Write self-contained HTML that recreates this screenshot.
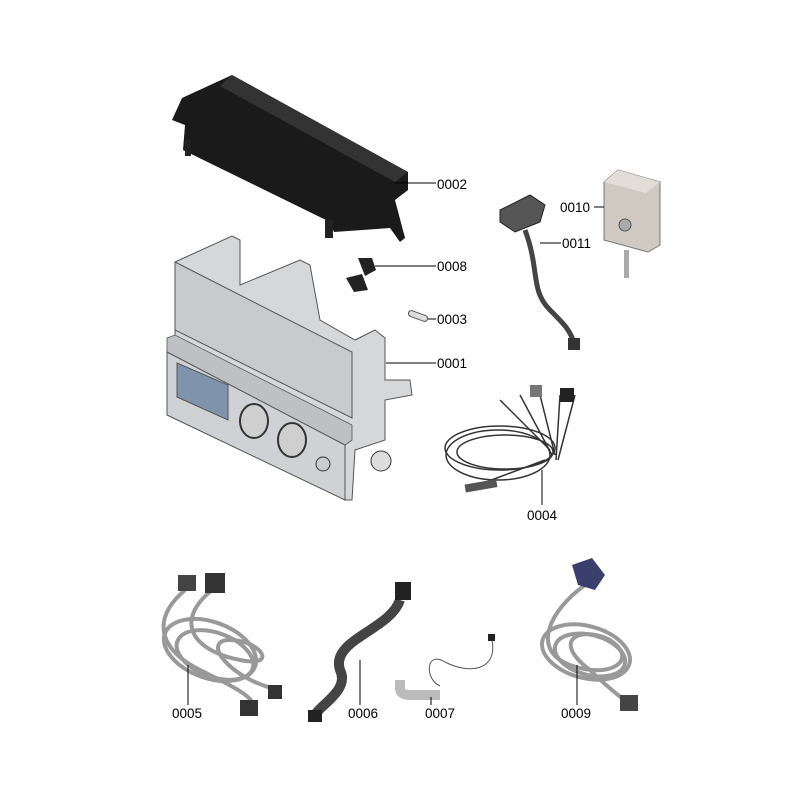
<!DOCTYPE html>
<html><head><meta charset="utf-8"><style>
html,body{margin:0;padding:0;background:#fff;width:800px;height:800px;overflow:hidden}
svg{display:block}
text{font-family:"Liberation Sans",Arial,sans-serif;font-size:13.5px;fill:#000}
</style></head><body>
<svg width="800" height="800" viewBox="0 0 800 800">
<!-- 0002 black cover -->
<polygon points="182,98 232,75 408,172 408,190 395,200 405,238 400,242 390,228 334,232 330,222 183,150 185,125 172,120" fill="#1a1a1a"/>
<polygon points="232,75 408,172 395,182 220,86" fill="#333"/>
<rect x="185" y="140" width="6" height="16" fill="#222"/>
<rect x="325" y="220" width="8" height="18" fill="#222"/>
<line x1="395" y1="183" x2="436" y2="183" stroke="#000" stroke-width="1"/>
<text x="437" y="189">0002</text>

<!-- 0001 control panel -->
<polygon points="175,262 232,236 240,240 240,285 300,260 310,265 320,320 355,340 375,330 385,338 385,380 410,380 412,395 385,400 385,440 355,450 352,500 345,500 175,408" fill="#d6d7d9" stroke="#555" stroke-width="1"/>
<polygon points="175,262 352,352 352,418 175,330" fill="#c9cacd" stroke="#555" stroke-width="1"/>
<polygon points="167,338 175,335 352,425 352,440 345,445 167,352" fill="#bfc0c3" stroke="#555" stroke-width="0.8"/>
<polygon points="167,352 345,445 345,500 167,415" fill="#d0d1d4" stroke="#555" stroke-width="1"/>
<polygon points="177,363 228,385 228,420 177,397" fill="#7f93ad" stroke="#555" stroke-width="1"/>
<ellipse cx="254" cy="421" rx="14" ry="17" fill="#cfcfcf" stroke="#333" stroke-width="2"/>
<ellipse cx="292" cy="440" rx="14" ry="17" fill="#cfcfcf" stroke="#333" stroke-width="2"/>
<circle cx="323" cy="464" r="7" fill="#ccc" stroke="#333"/>
<circle cx="381" cy="461" r="10" fill="#ddd" stroke="#333"/>
<line x1="386" y1="363" x2="436" y2="363" stroke="#000"/>
<text x="437" y="368">0001</text>

<!-- 0008 clip -->
<path d="M358,258 L372,258 L376,270 L365,276 Z M346,278 L362,274 L368,290 L354,292 Z" fill="#222"/>
<line x1="375" y1="266" x2="436" y2="266" stroke="#000"/>
<text x="437" y="271">0008</text>

<!-- 0003 fuse -->
<rect x="408" y="313" width="20" height="6" rx="3" fill="#ddd" stroke="#555" transform="rotate(20 418 316)"/>
<line x1="428" y1="319" x2="436" y2="319" stroke="#000"/>
<text x="437" y="324">0003</text>

<!-- 0011 terminal -->
<polygon points="500,210 530,195 545,205 540,222 515,232 500,222" fill="#555" stroke="#222"/>
<path d="M525,230 C540,270 530,290 550,310 C565,325 570,330 575,345" stroke="#444" stroke-width="5" fill="none"/>
<rect x="568" y="338" width="12" height="12" fill="#333"/>
<line x1="540" y1="243" x2="561" y2="243" stroke="#000"/>
<text x="562" y="248">0011</text>

<!-- 0010 box -->
<polygon points="604,182 618,170 660,182 660,245 648,252 604,240" fill="#cfc9c2" stroke="#777"/>
<polygon points="604,182 618,170 660,182 646,193" fill="#e2ddd7"/>
<circle cx="625" cy="225" r="6" fill="#aaa" stroke="#555"/>
<rect x="624" y="250" width="5" height="28" fill="#aaa"/>
<line x1="594" y1="207" x2="604" y2="207" stroke="#000"/>
<text x="560" y="212">0010</text>

<!-- 0004 harness -->
<g fill="none" stroke="#333" stroke-width="1.5">
<ellipse cx="500" cy="448" rx="55" ry="22"/>
<ellipse cx="505" cy="452" rx="48" ry="17"/>
<ellipse cx="498" cy="455" rx="52" ry="25"/>
<path d="M500,400 L550,450 M520,395 L552,455 M540,395 L555,455 M560,395 L556,460 M575,395 L558,460 M545,460 L470,488"/>
</g>
<rect x="465" y="482" width="32" height="8" fill="#555" transform="rotate(-10 480 486)"/>
<rect x="530" y="385" width="12" height="12" fill="#777"/><rect x="560" y="388" width="14" height="14" fill="#222"/>
<line x1="542" y1="470" x2="542" y2="505" stroke="#000"/>
<text x="527" y="520">0004</text>

<!-- 0005 -->
<g fill="none" stroke="#999" stroke-width="4">
<path d="M185,590 C150,620 160,650 200,670 C240,690 260,700 250,710"/>
<path d="M212,590 C175,620 190,650 240,660 C280,668 260,640 230,640 C200,640 230,680 280,690"/>
<ellipse cx="210" cy="650" rx="48" ry="28" transform="rotate(20 210 650)"/>
<ellipse cx="215" cy="655" rx="40" ry="22" transform="rotate(20 215 655)"/>
</g>
<rect x="178" y="575" width="18" height="16" fill="#444"/><rect x="205" y="573" width="20" height="20" fill="#333"/>
<rect x="240" y="700" width="18" height="16" fill="#333"/><rect x="268" y="685" width="14" height="14" fill="#333"/>
<line x1="188" y1="665" x2="188" y2="705" stroke="#000"/>
<text x="172" y="718">0005</text>

<!-- 0006 -->
<path d="M400,600 C390,630 330,640 340,670 C350,690 320,705 315,715" stroke="#444" stroke-width="10" fill="none"/>
<rect x="395" y="582" width="16" height="18" fill="#222"/><rect x="308" y="710" width="14" height="12" fill="#222"/>
<line x1="360" y1="660" x2="360" y2="705" stroke="#000"/>
<text x="348" y="718">0006</text>

<!-- 0007 -->
<path d="M492,640 C498,670 470,675 445,662 C425,650 425,680 440,686" stroke="#555" stroke-width="1" fill="none"/>
<path d="M400,680 L400,688 Q400,695 410,695 L440,695" stroke="#bbb" stroke-width="10" fill="none"/>
<rect x="488" y="634" width="7" height="7" fill="#222"/>
<line x1="431" y1="697" x2="431" y2="705" stroke="#000"/>
<text x="425" y="718">0007</text>

<!-- 0009 -->
<g fill="none" stroke="#999" stroke-width="4">
<path d="M585,585 C550,610 530,650 570,665 C610,680 640,660 610,640 C580,625 550,640 590,670 C610,690 625,700 630,705"/>
<ellipse cx="586" cy="652" rx="45" ry="26" transform="rotate(15 586 652)"/>
<ellipse cx="590" cy="655" rx="36" ry="20" transform="rotate(15 590 655)"/>
</g>
<polygon points="572,565 592,558 605,575 595,590 578,585" fill="#3b3f6e"/>
<rect x="620" y="695" width="18" height="16" fill="#444"/>
<line x1="577" y1="665" x2="577" y2="705" stroke="#000"/>
<text x="561" y="718">0009</text>
</svg>
</body></html>
